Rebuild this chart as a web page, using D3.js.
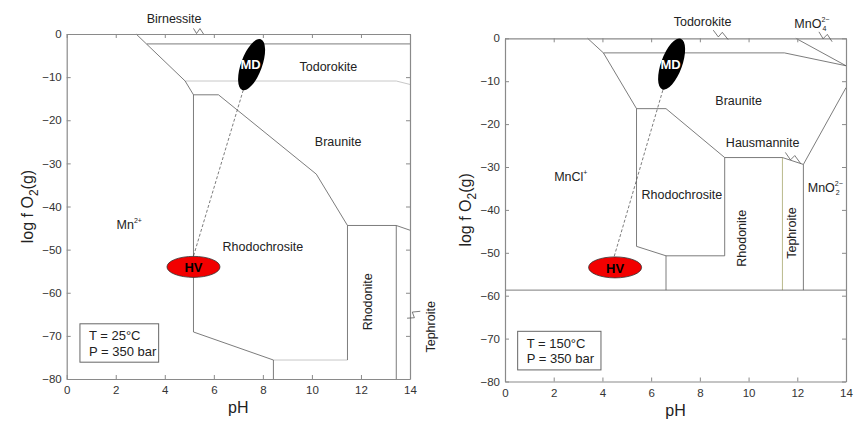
<!DOCTYPE html>
<html>
<head>
<meta charset="utf-8">
<script src="https://cdn.jsdelivr.net/npm/d3@7"></script>
<style>
  body { margin: 0; background: #fff; }
  svg { font-family: "Liberation Sans", Arial, sans-serif; }
</style>
</head>
<body>
<svg id="chart" width="854" height="421"></svg>
<script>
// axis ticks (shared by both panels)
const phTicks = [0, 2, 4, 6, 8, 10, 12, 14];
const fo2Ticks = [0, -10, -20, -30, -40, -50, -60, -70, -80];

// --- 25 C panel: field boundaries (pH, log fO2)
const leftLines = [
    [[2.83, 0], [4.83, -10.9], [5.17, -14.1], [5.17, -69.1], [8.43, -75.6], [8.43, -80]],
    [[3.27, -2.3], [14, -2.3]],
    [[5.17, -14.1], [6.19, -14.1], [10.18, -32.5], [11.45, -44.4], [11.45, -75.6]],
    [[11.45, -44.4], [13.44, -44.4], [14, -45.5]],
    [[13.44, -44.4], [13.44, -80]]
];
const leftLightLines = [
    [[4.83, -10.9], [13.44, -10.9], [14, -11.7]],
    [[8.43, -75.6], [11.45, -75.6]]
];
const leftLabels = [
    {text: "Todorokite", ph: 10.67, f: -7.6},
    {text: "Braunite", ph: 11.07, f: -25.0},
    {text: "Rhodochrosite", ph: 8.0, f: -49.4},
    {text: "Birnessite", ph: 4.38, f: 3.5}
];
const leftRotLabels = [
    {text: "Rhodonite", ph: 12.3, f: -62.1},
    {text: "Tephroite", ph: 14.87, f: -67.9}
];
const leftLeaders = [
    [[5.17, 1.3], [5.58, 0]],
    [[13.88, -65.9], [14.42, -64.3]]
];
const leftSamples = {md: [7.54, -7.1], hv: [5.17, -54.0], link: [[7.2, -13.0], [5.17, -51.5]]};
const leftBox = {ph0: 0.54, f0: -67.2, ph1: 3.75, f1: -76.1, lines: ["T = 25°C", "P = 350 bar"]};

// --- 150 C panel
const rightLines = [
    [[3.39, 0], [4.04, -3.4], [5.4, -16.4], [5.4, -48.5], [6.61, -50.7], [6.61, -58.7]],
    [[4.04, -3.4], [11.47, -3.4], [14, -6.4]],
    [[11.94, 0], [14, -6.4]],
    [[5.4, -16.4], [6.61, -16.4], [9.02, -27.8], [11.39, -27.8], [12.25, -29.4], [14, -11.5]],
    [[6.61, -50.7], [9.02, -50.7], [9.02, -27.8]],
    [[12.25, -29.4], [12.25, -58.7]],
    [[0, -58.7], [14, -58.7]]
];
const rightLightLines = [
    [[11.39, -27.8], [11.39, -58.7]]
];
const rightLabels = [
    {text: "Todorokite", ph: 8.11, f: 3.7},
    {text: "Braunite", ph: 9.59, f: -14.6},
    {text: "Hausmannite", ph: 10.58, f: -24.4},
    {text: "Rhodochrosite", ph: 7.26, f: -36.6}
];
const rightRotLabels = [
    {text: "Rhodonite", ph: 9.73, f: -46.6},
    {text: "Tephroite", ph: 11.77, f: -45.4}
];
const rightLeaders = [
    [[8.55, 1.9], [9.16, -0.3]],
    [[12.89, 1.5], [13.43, -0.8]],
    [[11.51, -26.6], [12.14, -29.2]]
];
const rightSamples = {md: [6.84, -6.0], hv: [4.52, -53.4], link: [[6.48, -12.1], [4.48, -50.9]]};
const rightBox = {ph0: 0.52, f0: -68.3, ph1: 3.94, f1: -77.3, lines: ["T = 150°C", "P = 350 bar"]};

const svg = d3.select("#chart");

const drawPanel = function(box, cfg) {
    const x = d3.scaleLinear().domain([0, 14]).range([box.left, box.right]);
    const y = d3.scaleLinear().domain([0, -80]).range([box.top, box.bottom]);
    const g = svg.append("g");
    const line = d3.line().x((d) => x(d[0])).y((d) => y(d[1]));

    // boundaries
    g.selectAll(".light").data(cfg.light).enter().append("path")
        .attr("d", line).attr("fill", "none").attr("stroke", cfg.lightColor).attr("stroke-width", 1);
    g.selectAll(".bound").data(cfg.lines).enter().append("path")
        .attr("d", line).attr("fill", "none").attr("stroke", "#5a5a5a").attr("stroke-width", 0.8);

    // frame + ticks on all four sides, pointing inward
    const frameColor = "#8a8a8a";
    const axB = g.append("g").attr("transform", "translate(0," + box.bottom + ")")
        .call(d3.axisBottom(x).tickValues(phTicks).tickSizeInner(-4).tickSizeOuter(0).tickPadding(5));
    const axT = g.append("g").attr("transform", "translate(0," + box.top + ")")
        .call(d3.axisTop(x).tickValues(phTicks).tickSizeInner(-4).tickSizeOuter(0).tickFormat(""));
    const axL = g.append("g").attr("transform", "translate(" + box.left + ",0)")
        .call(d3.axisLeft(y).tickValues(fo2Ticks).tickSizeInner(-4).tickSizeOuter(0).tickPadding(5)
            .tickFormat((d) => d < 0 ? "\u2212" + Math.abs(d) : d));
    const axR = g.append("g").attr("transform", "translate(" + box.right + ",0)")
        .call(d3.axisRight(y).tickValues(fo2Ticks).tickSizeInner(-4).tickSizeOuter(0).tickFormat(""));
    [axB, axT, axL, axR].forEach((a) => {
        a.select(".domain").attr("stroke", frameColor).attr("stroke-width", 1.2);
        a.selectAll(".tick line").attr("stroke", frameColor);
        a.selectAll(".tick text").attr("fill", "#333").style("font-size", "11.5px")
            .style("font-family", "'Liberation Sans', Arial, sans-serif");
    });
    axB.selectAll(".tick text").attr("dy", "0.9em");

    // axis titles
    g.append("text").attr("x", (box.left + box.right) / 2).attr("y", box.bottom + 34)
        .attr("text-anchor", "middle").style("font-size", "16px").attr("fill", "#222").text("pH");
    const yt = g.append("text")
        .attr("transform", "translate(" + (box.left - 34) + "," + ((box.top + box.bottom) / 2) + ") rotate(-90)")
        .attr("text-anchor", "middle").style("font-size", "16px").attr("fill", "#222");
    yt.append("tspan").text("log f O");
    yt.append("tspan").attr("dy", 5).style("font-size", "12px").text("2");
    yt.append("tspan").attr("dy", -5).text("(g)");

    // dashed link between samples
    g.append("path").datum(cfg.samples.link).attr("d", line)
        .attr("fill", "none").attr("stroke", "#444").attr("stroke-width", 0.7).attr("stroke-dasharray", "3,2");

    // MD ellipse
    const md = cfg.samples.md;
    g.append("ellipse").attr("cx", 0).attr("cy", 0).attr("rx", 10.5).attr("ry", 27)
        .attr("transform", "translate(" + x(md[0]) + "," + y(md[1]) + ") rotate(20)")
        .attr("fill", "#000");
    g.append("text").attr("x", x(md[0]) - 1).attr("y", y(md[1]))
        .attr("text-anchor", "middle").attr("dominant-baseline", "central")
        .style("font-size", "13px").style("font-weight", "bold").attr("fill", "#fff").text("MD");

    // HV ellipse
    const hv = cfg.samples.hv;
    g.append("ellipse").attr("cx", x(hv[0])).attr("cy", y(hv[1])).attr("rx", 26.5).attr("ry", 10.5)
        .attr("fill", "#f20000").attr("stroke", "#333").attr("stroke-width", 0.8);
    g.append("text").attr("x", x(hv[0])).attr("y", y(hv[1]) + 1)
        .attr("text-anchor", "middle").attr("dominant-baseline", "central")
        .style("font-size", "13px").style("font-weight", "bold").attr("fill", "#000").text("HV");

    // field labels
    g.selectAll(".lab").data(cfg.labels).enter().append("text")
        .attr("x", (d) => x(d.ph)).attr("y", (d) => y(d.f))
        .attr("text-anchor", "middle").attr("dominant-baseline", "central")
        .style("font-size", "12.5px").attr("fill", "#222").text((d) => d.text);
    g.selectAll(".rlab").data(cfg.rotLabels).enter().append("text")
        .attr("transform", (d) => "translate(" + x(d.ph) + "," + y(d.f) + ") rotate(-90)")
        .attr("text-anchor", "middle").attr("dominant-baseline", "central")
        .style("font-size", "12.5px").attr("fill", "#222").text((d) => d.text);

    // zigzag leaders
    cfg.leaders.forEach((l) => {
        const p0 = [x(l[0][0]), y(l[0][1])], p3 = [x(l[1][0]), y(l[1][1])];
        const dx = p3[0] - p0[0], dy = p3[1] - p0[1];
        const len = Math.sqrt(dx * dx + dy * dy);
        const nx = -dy / len * 3, ny = dx / len * 3;
        const p1 = [p0[0] + dx * 0.45 + nx, p0[1] + dy * 0.45 + ny];
        const p2 = [p0[0] + dx * 0.5 - nx, p0[1] + dy * 0.5 - ny];
        g.append("path").attr("d", d3.line()([p0, p1, p2, p3]))
            .attr("fill", "none").attr("stroke", "#444").attr("stroke-width", 0.7);
    });

    // condition box
    const b = cfg.box;
    g.append("rect").attr("x", x(b.ph0)).attr("y", y(b.f0))
        .attr("width", x(b.ph1) - x(b.ph0)).attr("height", y(b.f1) - y(b.f0))
        .attr("fill", "#fff").attr("stroke", "#666").attr("stroke-width", 1);
    b.lines.forEach((t, i) => {
        g.append("text").attr("x", x(b.ph0) + 9).attr("y", y(b.f0) + 12 + i * 15.5)
            .attr("dominant-baseline", "central").style("font-size", "13px").attr("fill", "#222").text(t);
    });

    return {g: g, x: x, y: y};
};

const L = drawPanel({left: 66.7, right: 410, top: 34, bottom: 379},
    {lines: leftLines, light: leftLightLines, lightColor: "#c8c8c8", labels: leftLabels, rotLabels: leftRotLabels,
     leaders: leftLeaders, samples: leftSamples, box: leftBox});

const R = drawPanel({left: 505, right: 846, top: 38.3, bottom: 381.5},
    {lines: rightLines, light: rightLightLines, lightColor: "#b9b98c", labels: rightLabels, rotLabels: rightRotLabels,
     leaders: rightLeaders, samples: rightSamples, box: rightBox});

// ion labels with super/subscripts
const ion = function(p, ph, f, base, sub, sup) {
    const t = p.g.append("text").attr("x", p.x(ph)).attr("y", p.y(f))
        .attr("text-anchor", "middle").attr("dominant-baseline", "central")
        .style("font-size", "12.5px").attr("fill", "#222");
    t.append("tspan").text(base);
    if (sup) t.append("tspan").attr("dy", -5).style("font-size", "7px").text(sup);
    if (sub) t.append("tspan").attr("dx", sup ? -7 : 0).attr("dy", sup ? 9 : 4).style("font-size", "7px").text(sub);
};
ion(L, 2.55, -44.2, "Mn", null, "2+");
ion(R, 2.7, -32.4, "MnCl", null, "+");
ion(R, 12.6, 3.4, "MnO", "4", "2\u2212");
ion(R, 13.15, -34.8, "MnO", "2", "2\u2212");
</script>
</body>
</html>
